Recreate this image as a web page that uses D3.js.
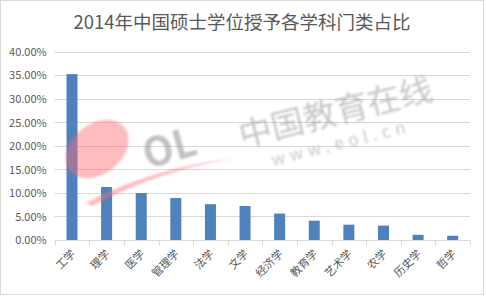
<!DOCTYPE html>
<html>
<head>
<meta charset="utf-8">
<script src="https://cdn.jsdelivr.net/npm/d3@7"></script>
<style>
  html, body { margin: 0; padding: 0; background: #fff; }
  svg { display: block; }
  text { font-family: "Noto Sans CJK SC", "Microsoft YaHei", sans-serif; }
</style>
</head>
<body>
<svg id="chart" width="486" height="296"></svg>
<script>
// 2014 master's degrees awarded, share by discipline
const categories = ["工学", "理学", "医学", "管理学", "法学", "文学", "经济学", "教育学", "艺术学", "农学", "历史学", "哲学"];
const shares = [35.2, 11.25, 9.97, 8.9, 7.6, 7.2, 5.6, 4.1, 3.25, 3.05, 1.1, 0.9];
const yTicks = [0, 5, 10, 15, 20, 25, 30, 35, 40];
const titleText = "2014年中国硕士学位授予各学科门类占比";

const W = 486, H = 296;
const margin = { left: 54.7, right: 16, top: 51.5, bottom: 56 };
const svg = d3.select("#chart");

// chart frame
svg.append("rect")
  .attr("x", 0.5).attr("y", 0.5)
  .attr("width", W - 3).attr("height", H - 2)
  .attr("fill", "#fff").attr("stroke", "#d9d9d9");

const x = d3.scaleBand().domain(categories)
  .range([margin.left, W - margin.right]).paddingInner(0).paddingOuter(0);
const y = d3.scaleLinear().domain([0, 40]).range([H - margin.bottom, margin.top]);

// title
svg.append("text")
  .attr("x", 242).attr("y", 29)
  .attr("text-anchor", "middle")
  .attr("font-size", 18.5)
  .attr("fill", "#595959")
  .text(titleText);

// gridlines
svg.append("g")
  .selectAll("line").data(yTicks.filter(d => d > 0)).join("line")
  .attr("x1", x.range()[0]).attr("x2", x.range()[1])
  .attr("y1", d => Math.round(y(d)) + 0.5).attr("y2", d => Math.round(y(d)) + 0.5)
  .attr("stroke", "#d9d9d9").attr("stroke-width", 1);

// y axis labels
const yAxis = d3.axisLeft(y).tickValues(yTicks)
  .tickFormat(d => d.toFixed(2) + "%").tickSize(0).tickPadding(0);
svg.append("g")
  .attr("transform", `translate(${margin.left - 8},0)`)
  .call(yAxis)
  .call(g => g.select(".domain").remove())
  .call(g => g.selectAll("text")
    .attr("font-size", 11).attr("fill", "#595959")
    .attr("font-family", "Liberation Sans, Arial, sans-serif")
    .attr("dy", "0.35em"));

// bars
svg.append("g")
  .selectAll("rect").data(categories).join("rect")
  .attr("x", d => x(d) + x.bandwidth() / 2 - 5.5)
  .attr("width", 11)
  .attr("y", (d, i) => y(shares[i]))
  .attr("height", (d, i) => y(0) - y(shares[i]))
  .attr("fill", "#4f81bd");

// watermark
const defs = svg.append("defs");
defs.append("filter").attr("id", "soft")
  .append("feGaussianBlur").attr("stdDeviation", 1.2);
const wm = svg.append("g").attr("filter", "url(#soft)");
wm.append("ellipse")
  .attr("cx", 97).attr("cy", 149).attr("rx", 35).attr("ry", 25)
  .attr("transform", "rotate(-38 97 149)")
  .attr("fill", "#ff6b74").attr("opacity", 0.45);
wm.append("path")
  .attr("d", "M86,203 Q150,168 236,158 Q160,170 92,206 Z")
  .attr("fill", "#ff6b74").attr("opacity", 0.45);
wm.append("text")
  .attr("x", 170).attr("y", 162)
  .attr("text-anchor", "middle")
  .attr("font-size", 40).attr("font-weight", "bold")
  .attr("font-family", "Liberation Sans, Arial, sans-serif")
  .attr("transform", "rotate(-16 170 150)")
  .attr("fill", "#999").attr("opacity", 0.6)
  .text("OL");
wm.append("text")
  .attr("x", 335).attr("y", 124)
  .attr("text-anchor", "middle")
  .attr("font-size", 33)
  .attr("transform", "rotate(-14 335 110)")
  .attr("fill", "#999").attr("opacity", 0.55)
  .text("中国教育在线");
wm.append("text")
  .attr("x", 340).attr("y", 149)
  .attr("text-anchor", "middle")
  .attr("font-size", 17)
  .attr("letter-spacing", 5)
  .attr("font-family", "Liberation Sans, Arial, sans-serif")
  .attr("transform", "rotate(-14 340 140)")
  .attr("fill", "#999").attr("opacity", 0.55)
  .text("www.eol.cn");

// category axis
const base = Math.round(y(0)) + 0.5;
const xAxis = svg.append("g");
xAxis.append("line")
  .attr("x1", x.range()[0]).attr("x2", x.range()[1])
  .attr("y1", base).attr("y2", base)
  .attr("stroke", "#d9d9d9");
const edges = categories.map(c => x(c)).concat([x.range()[1]]);
xAxis.selectAll("line.tick").data(edges).join("line")
  .attr("class", "tick")
  .attr("x1", d => Math.round(d) + 0.5).attr("x2", d => Math.round(d) + 0.5)
  .attr("y1", base).attr("y2", base + 5)
  .attr("stroke", "#d9d9d9");
xAxis.selectAll("text").data(categories).join("text")
  .attr("transform", d => `translate(${x(d) + x.bandwidth() / 2 + 4},${base + 14}) rotate(-45)`)
  .attr("text-anchor", "end")
  .attr("font-size", 11)
  .attr("fill", "#595959")
  .text(d => d);
</script>
</body>
</html>
